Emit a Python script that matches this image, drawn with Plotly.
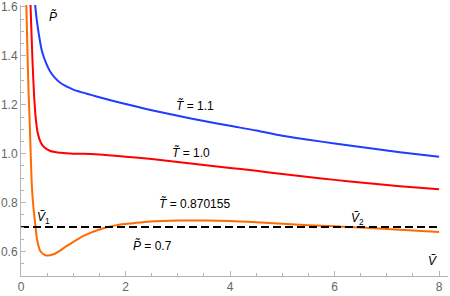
import plotly.graph_objects as go

# Isotherm T = 1.1 (blue)
v_blue = [0.27, 0.30, 0.34, 0.40, 0.48, 0.56, 0.65, 0.75, 0.90, 1.0, 1.5, 2.0, 2.5, 3.0, 3.5, 4.0, 4.5, 5.0, 5.5, 6.0, 6.5, 7.0, 7.5, 8.0]
p_blue = [1.61, 1.55, 1.49, 1.42, 1.37, 1.335, 1.31, 1.29, 1.272, 1.262, 1.231, 1.203, 1.178, 1.155, 1.134, 1.114, 1.095, 1.073, 1.057, 1.042, 1.027, 1.013, 1.0, 0.988]

# Isotherm T = 1.0 (red)
v_red = [0.18, 0.20, 0.22, 0.25, 0.28, 0.32, 0.38, 0.45, 0.56, 0.75, 1.0, 1.2, 1.5, 2.0, 2.5, 3.0, 3.5, 4.0, 4.5, 5.0, 5.5, 6.0, 6.5, 7.0, 7.5, 8.0]
p_red = [1.62, 1.50, 1.38, 1.24, 1.15, 1.085, 1.045, 1.025, 1.011, 1.004, 1.0, 1.0, 0.997, 0.988, 0.978, 0.966, 0.954, 0.942, 0.93, 0.917, 0.905, 0.893, 0.882, 0.872, 0.863, 0.855]

# Isotherm T = 0.870155 (orange)
v_orange = [0.10, 0.12, 0.145, 0.165, 0.178, 0.21, 0.241, 0.28, 0.306, 0.369, 0.464, 0.623, 0.879, 1.196, 1.515, 1.835, 2.152, 2.47, 3.0, 3.5, 4.0, 4.5, 5.0, 5.5, 6.0, 6.5, 7.0, 7.5, 8.0]
p_orange = [1.62, 1.45, 1.25, 1.14, 1.05, 0.86, 0.773, 0.70, 0.650, 0.602, 0.585, 0.589, 0.623, 0.664, 0.691, 0.708, 0.716, 0.723, 0.727, 0.727, 0.725, 0.72, 0.714, 0.708, 0.703, 0.698, 0.692, 0.686, 0.680]

# Isobar P = 0.7
v_iso = [0.0, 8.0]
p_iso = [0.7, 0.7]

fig = go.Figure()
fig.add_trace(go.Scatter(x=v_blue, y=p_blue, mode="lines",
                         line=dict(color="#1f3cff", width=2, shape="spline", smoothing=0.8)))
fig.add_trace(go.Scatter(x=v_red, y=p_red, mode="lines",
                         line=dict(color="#ff0000", width=2, shape="spline", smoothing=0.8)))
fig.add_trace(go.Scatter(x=v_orange, y=p_orange, mode="lines",
                         line=dict(color="#ff6a00", width=2, shape="spline", smoothing=0.8)))
fig.add_trace(go.Scatter(x=v_iso, y=p_iso, mode="lines",
                         line=dict(color="black", width=2, dash="8px,4px")))

W, H = 450, 296
ml, mr, mt, mb = 21, 2, 5, 20
pw, ph = W - ml - mr, H - mt - mb

ann_font = dict(family="Liberation Sans", size=12, color="black")
# label positions given in picture pixels
annotations = [
    dict(x=195, y=105, text="<i>T̃</i> = 1.1"),
    dict(x=191, y=153, text="<i>T̃</i> = 1.0"),
    dict(x=194, y=203, text="<i>T̃</i> = 0.870155"),
    dict(x=152, y=245, text="<i>P̃</i> = 0.7"),
    dict(x=43, y=218, text="<i>Ṽ</i><sub>1</sub>"),
    dict(x=357, y=219, text="<i>Ṽ</i><sub>2</sub>"),
    dict(x=53, y=17, text="<i>P̃</i>"),
    dict(x=432, y=261, text="<i>Ṽ</i>"),
]
new_anns = []
for a in annotations:
    new_anns.append(dict(x=(a["x"] - ml) / pw, y=(H - mb - a["y"]) / ph, xref="paper", yref="paper",
                         text=a["text"], showarrow=False, font=ann_font,
                         xanchor="center", yanchor="middle"))

tick_font = dict(family="Liberation Sans", size=12, color="#666666")
axis_common = dict(showgrid=False, zeroline=False, automargin=False,
                   showline=True, linecolor="#b5b5b5", linewidth=1,
                   ticks="inside", ticklen=5, tickcolor="#b5b5b5", tickwidth=1,
                   tickfont=tick_font)
fig.update_layout(
    template="none",
    width=W, height=H,
    margin=dict(l=ml, r=mr, t=mt, b=mb, autoexpand=False),
    paper_bgcolor="white", plot_bgcolor="white",
    showlegend=False,
    hovermode=False,
    annotations=new_anns,
    xaxis=dict(range=[0, 8.17], tick0=0, dtick=2, **axis_common,
               minor=dict(ticks="inside", dtick=0.5, ticklen=3, tickcolor="#b5b5b5")),
    yaxis=dict(range=[0.5, 1.608], tick0=0.6, dtick=0.2, tickformat=".1f", **axis_common,
               minor=dict(ticks="inside", dtick=0.05, ticklen=3, tickcolor="#b5b5b5")),
)

fig.write_html("out.html", config={"displayModeBar": False},
               post_script="document.body.style.margin='0';document.body.style.overflow='hidden';")
